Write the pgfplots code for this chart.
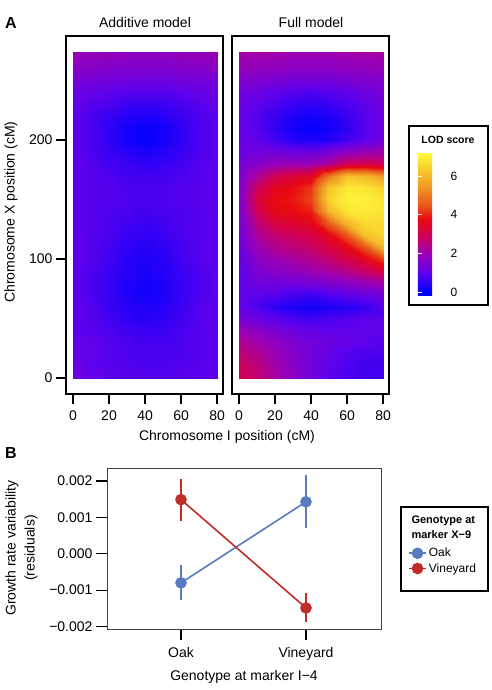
\documentclass[border=0pt]{standalone}
\usepackage{pgfplots}
\pgfplotsset{compat=1.18}
\usepackage{fontspec}
\setmainfont{Liberation Sans}
\definecolor{oakblue}{RGB}{88,122,190}
\definecolor{vinered}{RGB}{192,45,38}
\pgfplotsset{
  colormap={lod}{rgb255(0pt)=(0,0,255); rgb255(2pt)=(0,0,255); rgb255(12pt)=(95,0,235); rgb255(22pt)=(155,0,180); rgb255(32pt)=(210,0,80); rgb255(40pt)=(232,10,15); rgb255(46pt)=(232,80,25); rgb255(56pt)=(238,150,35); rgb255(66pt)=(248,205,45); rgb255(74.4pt)=(255,255,60)},
  heat/.style={
    scale only axis, width=157pt, height=358pt, anchor=south west,
    xmin=-3.9, xmax=83.3, ymin=-13.4, ymax=287.4,
    axis line style={line width=1.1pt},
    tick pos=left, tick align=outside, major tick length=10pt,
    xtick={0,20,40,60,80}, xticklabels={0,20,40,60,80},
    tick style={line width=1.2pt, black},
    colormap name=lod, point meta min=-0.2, point meta max=7.24,
    axis on top,
    tick label style={font=\fontsize{14}{16}\selectfont},
    xticklabel style={yshift=-3pt},
  }
}
\begin{document}
\begin{tikzpicture}[font=\fontsize{14}{16}\selectfont]
\useasboundingbox (0pt,0pt) rectangle (492pt,690pt);
% ---------- Additive model ----------
\begin{axis}[heat, at={(66pt,296pt)}, ytick={0,100,200}, yticklabels={0,100,200}]
\addplot[surf, shader=interp, mesh/cols=9, point meta=explicit] coordinates {
(0,0)[1.3] (10,0)[1.1] (20,0)[1.0] (30,0)[0.9] (40,0)[0.9] (50,0)[0.9] (60,0)[0.9] (70,0)[1.0] (80,0)[1.0]
(0,10)[1.2] (10,10)[1.0] (20,10)[0.9] (30,10)[0.9] (40,10)[0.8] (50,10)[0.8] (60,10)[0.9] (70,10)[0.9] (80,10)[1.0]
(0,20)[1.1] (10,20)[1.0] (20,20)[0.9] (30,20)[0.8] (40,20)[0.8] (50,20)[0.8] (60,20)[0.8] (70,20)[0.9] (80,20)[1.0]
(0,30)[1.1] (10,30)[1.0] (20,30)[0.9] (30,30)[0.8] (40,30)[0.7] (50,30)[0.7] (60,30)[0.8] (70,30)[0.9] (80,30)[1.0]
(0,40)[1.0] (10,40)[0.9] (20,40)[0.8] (30,40)[0.7] (40,40)[0.6] (50,40)[0.6] (60,40)[0.8] (70,40)[0.9] (80,40)[1.0]
(0,50)[1.0] (10,50)[0.9] (20,50)[0.7] (30,50)[0.5] (40,50)[0.4] (50,50)[0.5] (60,50)[0.7] (70,50)[0.9] (80,50)[1.0]
(0,60)[1.0] (10,60)[0.9] (20,60)[0.6] (30,60)[0.4] (40,60)[0.3] (50,60)[0.4] (60,60)[0.6] (70,60)[0.9] (80,60)[1.0]
(0,70)[1.0] (10,70)[0.8] (20,70)[0.6] (30,70)[0.3] (40,70)[0.2] (50,70)[0.3] (60,70)[0.6] (70,70)[0.8] (80,70)[1.0]
(0,80)[1.0] (10,80)[0.8] (20,80)[0.6] (30,80)[0.3] (40,80)[0.2] (50,80)[0.3] (60,80)[0.6] (70,80)[0.8] (80,80)[1.0]
(0,90)[1.0] (10,90)[0.8] (20,90)[0.6] (30,90)[0.4] (40,90)[0.25] (50,90)[0.4] (60,90)[0.6] (70,90)[0.8] (80,90)[1.0]
(0,100)[1.0] (10,100)[0.9] (20,100)[0.7] (30,100)[0.4] (40,100)[0.3] (50,100)[0.4] (60,100)[0.7] (70,100)[0.9] (80,100)[1.0]
(0,110)[1.0] (10,110)[0.9] (20,110)[0.7] (30,110)[0.5] (40,110)[0.4] (50,110)[0.5] (60,110)[0.7] (70,110)[0.9] (80,110)[1.0]
(0,120)[1.0] (10,120)[0.9] (20,120)[0.8] (30,120)[0.6] (40,120)[0.5] (50,120)[0.6] (60,120)[0.8] (70,120)[0.9] (80,120)[1.0]
(0,130)[1.0] (10,130)[0.9] (20,130)[0.8] (30,130)[0.7] (40,130)[0.6] (50,130)[0.7] (60,130)[0.8] (70,130)[0.9] (80,130)[1.0]
(0,140)[1.0] (10,140)[0.9] (20,140)[0.8] (30,140)[0.8] (40,140)[0.7] (50,140)[0.8] (60,140)[0.8] (70,140)[0.9] (80,140)[1.0]
(0,150)[1.0] (10,150)[0.9] (20,150)[0.9] (30,150)[0.8] (40,150)[0.8] (50,150)[0.8] (60,150)[0.9] (70,150)[0.9] (80,150)[1.0]
(0,160)[1.0] (10,160)[0.9] (20,160)[0.9] (30,160)[0.8] (40,160)[0.8] (50,160)[0.8] (60,160)[0.9] (70,160)[0.9] (80,160)[1.0]
(0,170)[1.0] (10,170)[0.9] (20,170)[0.8] (30,170)[0.7] (40,170)[0.7] (50,170)[0.7] (60,170)[0.8] (70,170)[0.9] (80,170)[1.0]
(0,180)[1.0] (10,180)[0.9] (20,180)[0.7] (30,180)[0.6] (40,180)[0.5] (50,180)[0.6] (60,180)[0.7] (70,180)[0.9] (80,180)[1.0]
(0,190)[1.0] (10,190)[0.8] (20,190)[0.6] (30,190)[0.4] (40,190)[0.3] (50,190)[0.4] (60,190)[0.6] (70,190)[0.8] (80,190)[1.0]
(0,200)[1.0] (10,200)[0.8] (20,200)[0.5] (30,200)[0.2] (40,200)[0.05] (50,200)[0.2] (60,200)[0.5] (70,200)[0.8] (80,200)[1.0]
(0,210)[1.0] (10,210)[0.8] (20,210)[0.5] (30,210)[0.2] (40,210)[0.1] (50,210)[0.2] (60,210)[0.5] (70,210)[0.8] (80,210)[1.0]
(0,220)[1.0] (10,220)[0.8] (20,220)[0.6] (30,220)[0.4] (40,220)[0.3] (50,220)[0.4] (60,220)[0.6] (70,220)[0.8] (80,220)[1.0]
(0,230)[1.1] (10,230)[0.9] (20,230)[0.8] (30,230)[0.6] (40,230)[0.6] (50,230)[0.6] (60,230)[0.8] (70,230)[0.9] (80,230)[1.1]
(0,240)[1.2] (10,240)[1.1] (20,240)[1.0] (30,240)[0.9] (40,240)[0.9] (50,240)[0.9] (60,240)[1.0] (70,240)[1.1] (80,240)[1.2]
(0,250)[1.4] (10,250)[1.3] (20,250)[1.3] (30,250)[1.2] (40,250)[1.2] (50,250)[1.2] (60,250)[1.3] (70,250)[1.3] (80,250)[1.4]
(0,260)[1.7] (10,260)[1.6] (20,260)[1.6] (30,260)[1.5] (40,260)[1.5] (50,260)[1.5] (60,260)[1.6] (70,260)[1.6] (80,260)[1.7]
(0,274)[2.0] (10,274)[1.9] (20,274)[1.9] (30,274)[1.8] (40,274)[1.8] (50,274)[1.8] (60,274)[1.9] (70,274)[1.9] (80,274)[2.0]
};
\end{axis}
% ---------- Full model ----------
\begin{axis}[heat, at={(232pt,296pt)}, ytick=\empty,
  colorbar,
  colorbar style={
    at={(1.1847,0.676)}, anchor=north west,
    scale only axis, width=29pt, height=144pt,
    ytick={0,2,4,6}, yticklabels={0,2,4,6},
    ytick pos=both, yticklabel pos=right,
    tick align=inside, major tick length=4pt,
    tick style={white, line width=0.8pt},
    axis line style={draw=none},
    yticklabel style={font=\fontsize{12}{14}\selectfont},
  }]
\addplot[surf, shader=interp, mesh/cols=9, point meta=explicit] coordinates {
(0,0)[3.0] (10,0)[2.7] (20,0)[2.2] (30,0)[1.7] (40,0)[1.3] (50,0)[1.0] (60,0)[0.8] (70,0)[0.7] (80,0)[0.7]
(0,10)[2.9] (10,10)[2.6] (20,10)[2.1] (30,10)[1.7] (40,10)[1.3] (50,10)[1.0] (60,10)[0.8] (70,10)[0.7] (80,10)[0.7]
(0,20)[2.7] (10,20)[2.4] (20,20)[2.0] (30,20)[1.6] (40,20)[1.3] (50,20)[1.1] (60,20)[0.9] (70,20)[0.8] (80,20)[0.8]
(0,30)[2.4] (10,30)[2.1] (20,30)[1.8] (30,30)[1.5] (40,30)[1.3] (50,30)[1.2] (60,30)[1.1] (70,30)[1.0] (80,30)[0.9]
(0,40)[2.0] (10,40)[1.7] (20,40)[1.4] (30,40)[1.2] (40,40)[1.1] (50,40)[1.0] (60,40)[1.0] (70,40)[1.0] (80,40)[1.0]
(0,50)[1.5] (10,50)[1.2] (20,50)[1.0] (30,50)[0.8] (40,50)[0.7] (50,50)[0.8] (60,50)[0.9] (70,50)[1.0] (80,50)[1.0]
(0,60)[1.1] (10,60)[0.8] (20,60)[0.5] (30,60)[0.3] (40,60)[0.2] (50,60)[0.3] (60,60)[0.4] (70,60)[0.6] (80,60)[0.9]
(0,70)[1.1] (10,70)[1.0] (20,70)[0.9] (30,70)[0.7] (40,70)[0.6] (50,70)[0.8] (60,70)[1.0] (70,70)[1.1] (80,70)[1.3]
(0,80)[1.0] (10,80)[1.3] (20,80)[1.3] (30,80)[1.3] (40,80)[1.4] (50,80)[1.5] (60,80)[1.7] (70,80)[1.9] (80,80)[2.1]
(0,90)[1.0] (10,90)[1.5] (20,90)[1.7] (30,90)[1.8] (40,90)[2.0] (50,90)[2.2] (60,90)[2.5] (70,90)[2.8] (80,90)[3.2]
(0,100)[1.1] (10,100)[1.7] (20,100)[2.0] (30,100)[2.2] (40,100)[2.4] (50,100)[2.7] (60,100)[3.1] (70,100)[3.6] (80,100)[4.3]
(0,110)[1.2] (10,110)[2.0] (20,110)[2.4] (30,110)[2.6] (40,110)[2.8] (50,110)[3.2] (60,110)[3.7] (70,110)[4.5] (80,110)[6.0]
(0,120)[1.3] (10,120)[2.3] (20,120)[2.7] (30,120)[2.9] (40,120)[3.1] (50,120)[3.7] (60,120)[4.5] (70,120)[6.2] (80,120)[6.5]
(0,130)[1.4] (10,130)[2.6] (20,130)[3.2] (30,130)[3.4] (40,130)[3.6] (50,130)[4.6] (60,130)[6.0] (70,130)[6.6] (80,130)[6.6]
(0,140)[1.5] (10,140)[3.0] (20,140)[3.7] (30,140)[3.8] (40,140)[4.0] (50,140)[6.0] (60,140)[6.8] (70,140)[6.9] (80,140)[6.8]
(0,150)[1.5] (10,150)[3.2] (20,150)[3.8] (30,150)[3.9] (40,150)[4.3] (50,150)[6.5] (60,150)[7.0] (70,150)[7.0] (80,150)[6.8]
(0,160)[1.5] (10,160)[2.9] (20,160)[3.6] (30,160)[3.8] (40,160)[4.2] (50,160)[6.3] (60,160)[6.9] (70,160)[6.8] (80,160)[6.5]
(0,170)[1.4] (10,170)[2.3] (20,170)[3.0] (30,170)[3.3] (40,170)[3.5] (50,170)[5.0] (60,170)[6.2] (70,170)[6.0] (80,170)[5.5]
(0,180)[1.3] (10,180)[1.6] (20,180)[1.9] (30,180)[2.0] (40,180)[2.0] (50,180)[2.3] (60,180)[3.0] (70,180)[3.1] (80,180)[3.0]
(0,190)[1.2] (10,190)[1.3] (20,190)[1.3] (30,190)[1.2] (40,190)[1.2] (50,190)[1.4] (60,190)[1.8] (70,190)[2.0] (80,190)[2.1]
(0,200)[1.1] (10,200)[1.0] (20,200)[0.7] (30,200)[0.4] (40,200)[0.3] (50,200)[0.4] (60,200)[0.7] (70,200)[1.0] (80,200)[1.3]
(0,210)[1.1] (10,210)[0.9] (20,210)[0.5] (30,210)[0.2] (40,210)[0.05] (50,210)[0.2] (60,210)[0.5] (70,210)[0.9] (80,210)[1.2]
(0,220)[1.1] (10,220)[0.9] (20,220)[0.6] (30,220)[0.3] (40,220)[0.2] (50,220)[0.3] (60,220)[0.6] (70,220)[0.9] (80,220)[1.2]
(0,230)[1.2] (10,230)[1.0] (20,230)[0.8] (30,230)[0.6] (40,230)[0.5] (50,230)[0.6] (60,230)[0.8] (70,230)[1.0] (80,230)[1.3]
(0,240)[1.3] (10,240)[1.2] (20,240)[1.0] (30,240)[0.9] (40,240)[0.8] (50,240)[0.9] (60,240)[1.0] (70,240)[1.2] (80,240)[1.4]
(0,250)[1.6] (10,250)[1.5] (20,250)[1.4] (30,250)[1.3] (40,250)[1.3] (50,250)[1.3] (60,250)[1.4] (70,250)[1.5] (80,250)[1.6]
(0,260)[1.9] (10,260)[1.8] (20,260)[1.8] (30,260)[1.7] (40,260)[1.7] (50,260)[1.7] (60,260)[1.8] (70,260)[1.8] (80,260)[1.9]
(0,274)[2.2] (10,274)[2.1] (20,274)[2.1] (30,274)[2.0] (40,274)[2.0] (50,274)[2.0] (60,274)[2.1] (70,274)[2.1] (80,274)[2.2]
};
\end{axis}
% ---------- Panel B ----------
\begin{axis}[at={(107pt,61pt)}, anchor=south west, scale only axis, width=274pt, height=161pt,
  xmin=0.408, xmax=2.6, ymin=-0.00207, ymax=0.00236,
  xtick={1,2}, xticklabels={Oak,Vineyard},
  ytick={-0.002,-0.001,0,0.001,0.002},
  yticklabels={−0.002,−0.001,0.000,0.001,0.002},
  scaled y ticks=false,
  tick pos=left, tick align=outside, major tick length=11pt,
  tick style={line width=1.2pt, black},
  axis line style={line width=0.8pt, black!75},
  tick label style={font=\fontsize{14}{16}\selectfont},
  xticklabel style={yshift=-4pt},
  legend style={at={(1.0876,0.528)}, anchor=north west, draw=none, fill=none,
    font=\fontsize{12}{14}\selectfont, row sep=1pt},
  legend cell align=left,
  clip=false,
]
\addplot[oakblue, line width=1.6pt, mark=*, mark size=5pt,
  error bars/.cd, y dir=both, y explicit, error mark=none,
  error bar style={line width=1.6pt, oakblue}]
  coordinates {(1,-0.0008) +- (0,0.00048) (2,0.00143) +- (0,0.00073)};
\addlegendentry{Oak}
\addplot[vinered, line width=1.6pt, mark=*, mark size=5pt,
  error bars/.cd, y dir=both, y explicit, error mark=none,
  error bar style={line width=1.6pt, vinered}]
  coordinates {(1,0.00149) +- (0,0.00058) (2,-0.00149) +- (0,0.0004)};
\addlegendentry{Vineyard}
\end{axis}
% ---------- annotations ----------
\node[font=\bfseries\fontsize{16}{18}\selectfont] at (11pt,667pt) {A};
\node[font=\bfseries\fontsize{16}{18}\selectfont] at (11pt,237pt) {B};
\node at (145pt,667pt) {Additive model};
\node at (311pt,667pt) {Full model};
\node[rotate=90] at (11pt,478pt) {Chromosome X position (cM)};
\node at (227pt,253pt) {Chromosome I position (cM)};
\node[rotate=90] at (12pt,142pt) {Growth rate variability};
\node[rotate=90] at (31pt,142pt) {(residuals)};
\node at (244pt,13pt) {Genotype at marker I−4};
% colorbar box
\draw[line width=1.6pt] (409pt,385pt) rectangle (488pt,564pt);
\node[font=\bfseries\fontsize{10.5}{12}\selectfont] at (448pt,550pt) {LOD score};
% legend box
\draw[line width=1.6pt] (401pt,99pt) rectangle (488pt,183pt);
\node[anchor=west, font=\bfseries\fontsize{11}{13}\selectfont] at (408pt,169pt) {Genotype at};
\node[anchor=west, font=\bfseries\fontsize{11}{13}\selectfont] at (408pt,155pt) {marker X−9};
\end{tikzpicture}
\end{document}
